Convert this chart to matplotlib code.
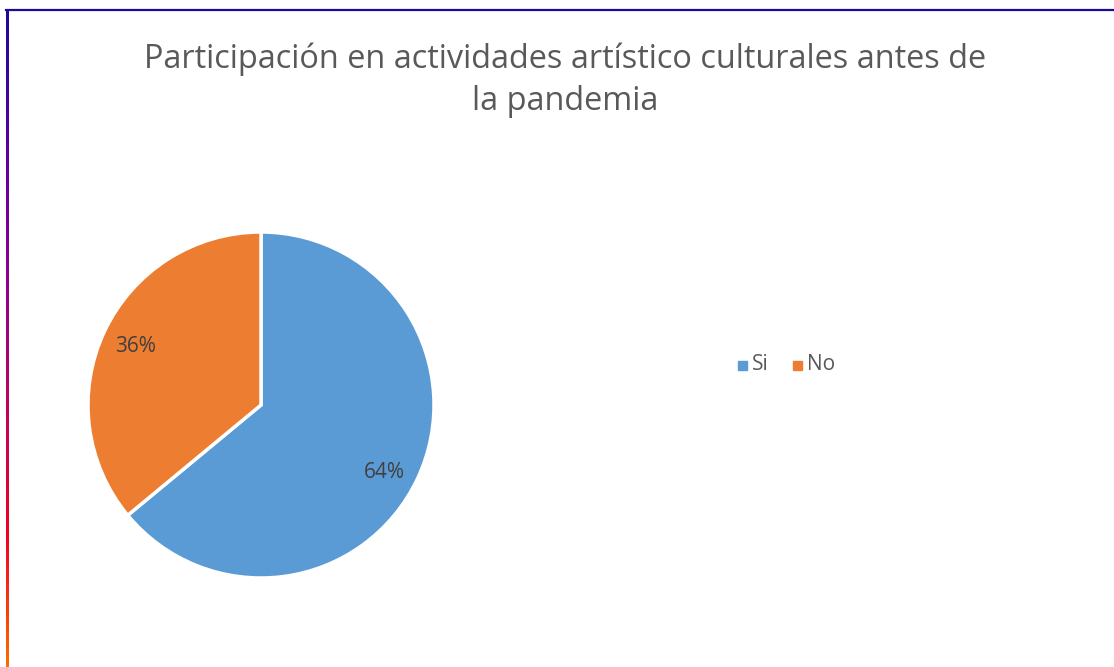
import numpy as np
import matplotlib.pyplot as plt
from matplotlib.colors import LinearSegmentedColormap

labels = ["Si", "No"]
values = [64, 36]
colors = ["#5b9bd5", "#ed7d31"]
title = "Participación en actividades artístico culturales antes de\nla pandemia"

W, H = 1114, 667
fig = plt.figure(figsize=(W / 100, H / 100), dpi=100)
fig.patch.set_facecolor("white")

# pie axes: centre ~ (261, 405), radius ~ 173 px
cx, cy, r = 261, 405, 173
ax = fig.add_axes([(cx - r) / W, 1 - (cy + r) / H, 2 * r / W, 2 * r / H])
wedges, texts, autotexts = ax.pie(
    values, colors=colors, startangle=90, counterclock=False,
    autopct="%1.0f%%", pctdistance=0.8,
    wedgeprops=dict(edgecolor="white", linewidth=2.5),
    textprops=dict(fontsize=15, color="#404040", family="Open Sans"))
ax.set_aspect("equal")
ax.set_xlim(-1, 1)
ax.set_ylim(-1, 1)
# nudge the Si label slightly lower, as in the original
x, y = autotexts[0].get_position()
autotexts[0].set_position((x - 0.01, y - 0.05))

fig.text(565 / W, 1 - 80 / H, title, ha="center", va="center", fontsize=23.4,
         color="#595959", family="Open Sans", linespacing=1.38)

# legend
ly = 1 - 365 / H
for lab, col, x0 in zip(labels, colors, [738, 793]):
    fig.patches.append(plt.Rectangle((x0 / W, ly - 4.5 / H), 9 / W, 9 / H,
                                     transform=fig.transFigure, color=col))
    fig.text((x0 + 14) / W, ly, lab, ha="left", va="center", fontsize=15,
             color="#595959", family="Open Sans")

# border: top line and gradient left line
fig.add_artist(plt.Line2D([6 / W, 1], [1 - 10 / H, 1 - 10 / H],
                          transform=fig.transFigure, color="#1a0a9a", lw=1.6))
cmap = LinearSegmentedColormap.from_list(
    "edge", ["#1a0a9a", "#5a00a0", "#8a0090", "#c00060", "#f00020", "#ff6a00"])
bax = fig.add_axes([5.5 / W, 0, 2.5 / W, 1 - 9.5 / H])
bax.imshow(np.linspace(0, 1, 300).reshape(-1, 1), cmap=cmap, aspect="auto",
           interpolation="bilinear")
bax.axis("off")

fig.savefig("out.png", dpi=100)
